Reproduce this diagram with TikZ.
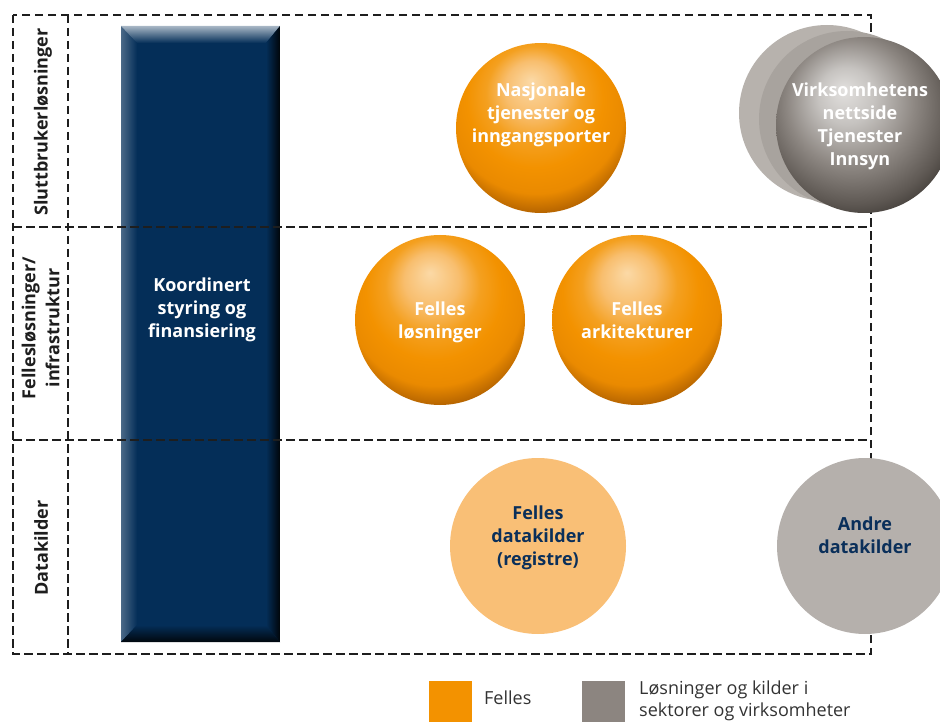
\documentclass[tikz,border=0pt]{standalone}
\usepackage{fontspec}
\setmainfont{Open Sans}
\usetikzlibrary{shadings}
\definecolor{navy}{HTML}{042E58}
\definecolor{navytxt}{HTML}{0A2F5A}
\definecolor{dashc}{HTML}{1E1E1E}
\definecolor{oA}{HTML}{FBD9A6}
\definecolor{oB}{HTML}{F8BE6E}
\definecolor{oC}{HTML}{F4A020}
\definecolor{oD}{HTML}{F39200}
\definecolor{oE}{HTML}{EA8A00}
\definecolor{oF}{HTML}{B06000}
\definecolor{oG}{HTML}{6A3A00}
\definecolor{oH}{HTML}{3A2000}
\definecolor{gA}{HTML}{E2E0DE}
\definecolor{gB}{HTML}{C6C3C0}
\definecolor{gC}{HTML}{8E8883}
\definecolor{gD}{HTML}{5E5853}
\definecolor{gE}{HTML}{35312D}
\definecolor{gF}{HTML}{1E1C1A}
\definecolor{lightorange}{HTML}{F9BF76}
\definecolor{flatgray}{HTML}{B5B0AC}
\definecolor{backgray}{HTML}{B7B2AD}
\definecolor{midgray}{HTML}{A8A39E}
\definecolor{legorange}{HTML}{F39200}
\definecolor{leggray}{HTML}{8C8580}
\definecolor{legtxt}{HTML}{333333}
\pgfdeclareradialshading{orangeball}{\pgfpoint{-3bp}{14bp}}{color(0bp)=(oA); color(8bp)=(oB); color(14bp)=(oC); color(20bp)=(oD); color(26bp)=(oE); color(31bp)=(oF); color(35bp)=(oG); color(39bp)=(oH); color(50bp)=(oH)}
\pgfdeclareradialshading{grayball}{\pgfpoint{-6bp}{10bp}}{color(0bp)=(gA); color(8bp)=(gB); color(18bp)=(gC); color(27bp)=(gD); color(33bp)=(gE); color(40bp)=(gF); color(50bp)=(gF)}
\tikzset{
  dashline/.style={draw=dashc, line width=2.8pt, dash pattern=on 8.5pt off 4.5pt},
  rowlabel/.style={rotate=90, font=\fontsize{18}{24}\selectfont\bfseries, text=dashc, align=center, inner sep=0pt},
  ballbase/.style={circle, minimum size=170pt, inner sep=0pt},
  oball/.style={ballbase, shade, shading=orangeball},
  gball/.style={ballbase, minimum size=176pt, shade, shading=grayball},
  flatball/.style={ballbase, minimum size=176pt},
  balltext/.style={inner sep=0pt, align=center, text=white, font=\fontsize{18}{23}\selectfont\bfseries},
  navytext/.style={balltext, text=navytxt},
  legbox/.style={inner sep=0pt, minimum width=43pt, minimum height=41pt, anchor=north west},
  legtext/.style={inner sep=0pt, align=left, text=legtxt, font=\fontsize{18}{22}\selectfont}
}
\begin{document}
\begin{tikzpicture}[x=1pt, y=-1pt]
\useasboundingbox (0,0) rectangle (940,722);
% navy bar with bevels
\fill[navy] (121,26) rectangle (280,642);
\shade[left color=navy!72!white, right color=navy] (121,26) -- (137,43) -- (137,625) -- (121,642) -- cycle;
\shade[top color=navy!35!white, bottom color=navy] (121,26) -- (280,26) -- (266,43) -- (137,43) -- cycle;
\shade[left color=navy, right color=black!90!navy] (280,26) -- (280,642) -- (266,625) -- (266,43) -- cycle;
\shade[top color=navy, bottom color=black!85!navy] (121,642) -- (280,642) -- (266,625) -- (137,625) -- cycle;
\node[balltext] (bar) at (202,310) {Koordinert\\styring og\\finansiering};
% dashed grid
\draw[dashline] (13,15) rectangle (871,654);
\draw[dashline] (68,15) -- (68,654);
\draw[dashline] (13,227) -- (871,227);
\draw[dashline] (13,440) -- (871,440);
% row labels
\node[rowlabel] (r1) at (43,122) {Sluttbrukerløsninger};
\node[rowlabel] (r2) at (40.5,328) {Fellesløsninger/\\infrastruktur};
\node[rowlabel] (r3) at (41,548) {Datakilder};
% orange balls
\node[oball] (nasj) at (541,128) {};
\node[balltext] (nasjt) at (541,115.3) {Nasjonale\\tjenester og\\inngangsporter};
\node[oball] (flos) at (440,320) {};
\node[balltext] (flost) at (440,322.8) {Felles\\løsninger};
\node[oball] (fark) at (637,320) {};
\node[balltext] (farkt) at (637,320.6) {Felles\\arkitekturer};
% gray stacked balls
\fill[backgray] (827,113) circle (88);
\fill[midgray] (847,119) circle (88);
\node[gball] (virk) at (864,125) {};
\node[balltext] (virkt) at (860,126.5) {Virksomhetens\\nettside\\Tjenester\\Innsyn};
% flat balls
\node[flatball, fill=lightorange] (fdat) at (538,546) {};
\node[navytext] (fdatt) at (538,538.3) {Felles\\datakilder\\(registre)};
\node[flatball, fill=flatgray] (andre) at (865,546) {};
\node[navytext] (andret) at (865,535.6) {Andre\\datakilder};
% legend
\node[legbox, fill=legorange] (lo) at (429,681) {};
\node[legtext, anchor=base west] (lot) at (484,704) {Felles};
\node[legbox, fill=leggray] (lg) at (582,681) {};
\node[legtext, anchor=west] (lgt) at (639,701.3) {Løsninger og kilder i\\sektorer og virksomheter};
\end{tikzpicture}
\end{document}
